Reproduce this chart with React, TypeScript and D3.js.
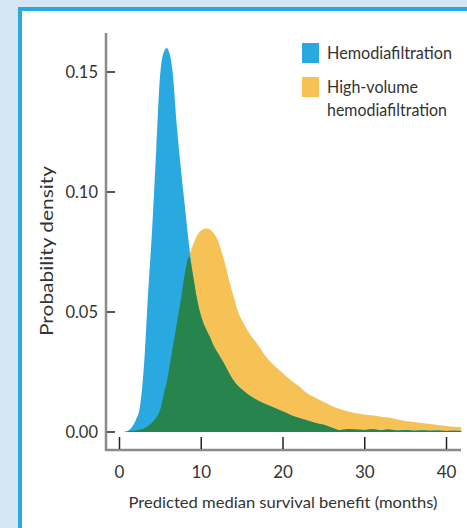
import React, { useEffect, useRef } from "react";
import * as d3 from "d3";

// months on the x axis (shared grid for both densities)
const months = [0, 0.5, 1, 1.5, 2, 2.5, 3, 3.5, 4, 4.5, 5, 5.5, 5.8, 6, 6.5, 7, 7.5, 8, 8.5, 9, 9.5, 10, 10.7, 11, 11.5, 12, 12.5, 13, 13.5, 14, 14.5, 15, 16, 17, 18, 19, 20, 21, 22, 23, 24, 25, 26, 27, 28, 29, 30, 31, 32, 33, 34, 35, 36, 37, 38, 39, 40, 41, 41.8];

const hdf = [0, 0, 0.0005, 0.002, 0.005, 0.0105, 0.028, 0.058, 0.085, 0.118, 0.15, 0.159, 0.16, 0.159, 0.15, 0.128, 0.11, 0.094, 0.078, 0.065, 0.055, 0.048, 0.042, 0.04, 0.036, 0.033, 0.0302, 0.0272, 0.024, 0.0213, 0.0192, 0.0177, 0.015, 0.013, 0.0115, 0.01, 0.0085, 0.007, 0.0058, 0.0048, 0.0038, 0.003, 0.0018, 0.0008, 0.0012, 0.001, 0.0008, 0.0011, 0.0007, 0.001, 0.0006, 0.0008, 0.0005, 0.0007, 0.0005, 0.0006, 0.0004, 0.0005, 0.0004];

const hvhdf = [0, 0, 0.0002, 0.0004, 0.0006, 0.001, 0.0015, 0.0025, 0.004, 0.006, 0.0095, 0.017, 0.021, 0.025, 0.035, 0.045, 0.055, 0.066, 0.073, 0.078, 0.082, 0.084, 0.0848, 0.0845, 0.083, 0.08, 0.075, 0.069, 0.062, 0.056, 0.05, 0.0465, 0.0405, 0.036, 0.031, 0.0275, 0.0245, 0.0215, 0.019, 0.016, 0.0142, 0.0125, 0.0108, 0.0095, 0.0085, 0.0078, 0.0073, 0.0069, 0.0064, 0.006, 0.0052, 0.0046, 0.0042, 0.0038, 0.0033, 0.0029, 0.0025, 0.0022, 0.002];

const xTicks = [0, 10, 20, 30, 40];
const yTicks = [0, 0.05, 0.1, 0.15];
const legendLabels = [["Hemodiafiltration"], ["High-volume", "hemodiafiltration"]];

const W = 467;
const H = 528;
const BLUE = "#29a9e0";
const ORANGE = "#f6c255";
const GREEN = "#26844c";
const FONT = "Lato, 'Noto Sans', sans-serif";
const INK = "#333";

export default function App() {
  const ref = useRef<SVGSVGElement>(null);

  useEffect(() => {
    const svg = d3.select(ref.current);
    svg.selectAll("*").remove();

    // page background and the blue frame
    svg.append("rect").attr("width", W).attr("height", H).attr("fill", "#d5e7f5");
    svg.append("rect")
      .attr("x", 20).attr("y", 9)
      .attr("width", W).attr("height", H)
      .attr("fill", "#fff")
      .attr("stroke", BLUE)
      .attr("stroke-width", 4);

    const x = d3.scaleLinear().domain([0, 40]).range([119.5, 446.5]);
    const y = d3.scaleLinear().domain([0, 0.15]).range([432, 72]);

    const overlap = months.map((_, i) => Math.min(hdf[i], hvhdf[i]));

    const area = (vals: number[]) =>
      d3.area<number>()
        .x((_, i) => x(months[i]))
        .y0(y(0))
        .y1((d) => y(d))
        .curve(d3.curveMonotoneX)(vals);

    const g = svg.append("g");
    g.append("path").attr("d", area(hvhdf)).attr("fill", ORANGE);
    g.append("path").attr("d", area(hdf)).attr("fill", BLUE);
    g.append("path").attr("d", area(overlap)).attr("fill", GREEN);

    // axes
    svg.append("line")
      .attr("x1", 106).attr("x2", 106)
      .attr("y1", 33).attr("y2", 451)
      .attr("stroke", "#8a8a8a").attr("stroke-width", 2.5);
    svg.append("line")
      .attr("x1", 105).attr("x2", 461)
      .attr("y1", 450).attr("y2", 450)
      .attr("stroke", "#8a8a8a").attr("stroke-width", 2.5);

    const yAxis = svg.append("g");
    yTicks.forEach((t) => {
      yAxis.append("line")
        .attr("x1", 107).attr("x2", 115)
        .attr("y1", y(t)).attr("y2", y(t))
        .attr("stroke", "#222").attr("stroke-width", 1.5);
      yAxis.append("text")
        .attr("x", 98).attr("y", y(t) + 6)
        .attr("text-anchor", "end")
        .attr("font-family", FONT).attr("font-size", 16.5)
        .attr("fill", INK)
        .text(d3.format(".2f")(t));
    });

    const xAxis = svg.append("g");
    xTicks.forEach((t) => {
      xAxis.append("line")
        .attr("x1", x(t)).attr("x2", x(t))
        .attr("y1", 437).attr("y2", 449)
        .attr("stroke", "#222").attr("stroke-width", 1.5);
      xAxis.append("text")
        .attr("x", x(t)).attr("y", 478)
        .attr("text-anchor", "middle")
        .attr("font-family", FONT).attr("font-size", 17)
        .attr("fill", INK)
        .text(t);
    });

    svg.append("text")
      .attr("x", 283).attr("y", 508)
      .attr("text-anchor", "middle")
      .attr("font-family", FONT).attr("font-size", 16)
      .attr("textLength", 309).attr("lengthAdjust", "spacingAndGlyphs")
      .attr("fill", INK)
      .text("Predicted median survival benefit (months)");

    svg.append("text")
      .attr("transform", "translate(53,251) rotate(-90)")
      .attr("text-anchor", "middle")
      .attr("font-family", FONT).attr("font-size", 16.5)
      .attr("textLength", 170).attr("lengthAdjust", "spacingAndGlyphs")
      .attr("fill", INK)
      .text("Probability density");

    // legend
    const legendWidths = [[125], [91, 120]];
    const legend = svg.append("g");
    [BLUE, ORANGE].forEach((c, i) => {
      const top = 43 + i * 34;
      legend.append("rect")
        .attr("x", 302).attr("y", top)
        .attr("width", 17).attr("height", 20)
        .attr("fill", c);
      legendLabels[i].forEach((line, j) => {
        legend.append("text")
          .attr("x", 327).attr("y", top + 16 + j * 23)
          .attr("font-family", FONT).attr("font-size", 16.5)
          .attr("textLength", legendWidths[i][j]).attr("lengthAdjust", "spacingAndGlyphs")
          .attr("fill", INK)
          .text(line);
      });
    });
  }, []);

  return (
    <svg
      ref={ref}
      width={W}
      height={H}
      style={{ position: "absolute", left: 0, top: 0 }}
    />
  );
}
